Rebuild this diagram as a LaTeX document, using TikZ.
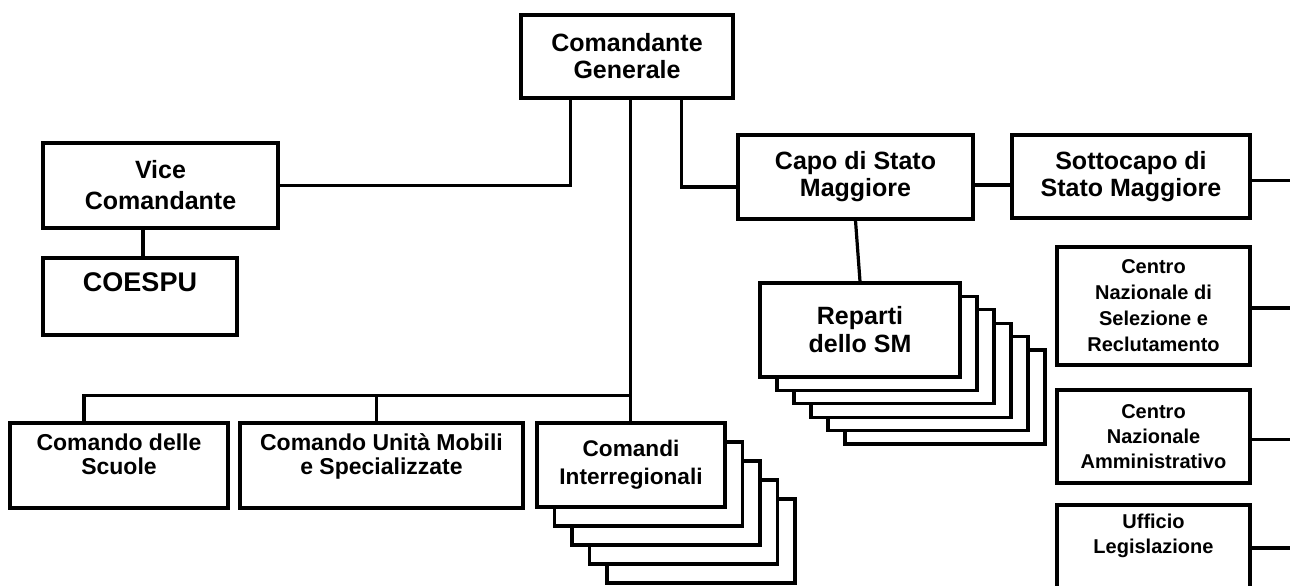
\documentclass[tikz,border=0pt]{standalone}
\usepackage{fontspec}
\setmainfont{Liberation Sans}
\usetikzlibrary{calc}

\begin{document}
\begin{tikzpicture}[x=0.5pt,y=-0.5pt,line width=1.6pt,
        box/.style={draw,rectangle,inner sep=0pt,align=center,fill=white},
        big/.style={font=\bfseries\fontsize{12.5}{13.5}\selectfont},
        mid/.style={font=\bfseries\fontsize{11.3}{14}\selectfont},
        small/.style={font=\bfseries\fontsize{10}{13}\selectfont},
        toptext/.style={anchor=north,inner sep=0pt,align=center}]
        \useasboundingbox (0,0) rectangle (1290,585);
        \coordinate (rim) at (1300,0);
        \node[box,big,minimum width=106pt,minimum height=41.5pt] (cg) at (627,56.5) {Comandante\\Generale};
        \node[box,big,font=\bfseries\fontsize{12.5}{15.5}\selectfont,minimum width=117.5pt,minimum height=42.5pt] (vc) at (160.5,185.5) {Vice\\Comandante};
        \node[box,minimum width=97pt,minimum height=38.5pt,
              label={[toptext,yshift=-7.5pt,font=\bfseries\fontsize{13.5}{15}\selectfont]north:COESPU}] (coe) at (140,296.5) {};
        \node[box,big,minimum width=117.5pt,minimum height=42pt] (capo) at (855.5,177) {Capo di Stato\\Maggiore};
        \node[box,big,minimum width=119pt,minimum height=41.5pt] (sotto) at (1131,176.5) {Sottocapo di\\Stato Maggiore};
        \foreach \i in {5,4,...,1}
            \node[box,minimum width=100pt,minimum height=47pt] (rep\i) at ($(860,330)+(\i*17,\i*13.4)$) {};
        \node[box,big,font=\bfseries\fontsize{12.5}{14}\selectfont,minimum width=100pt,minimum height=47pt] (rep) at (860,330) {Reparti\\dello SM};
        \node[box,small,minimum width=96.5pt,minimum height=59pt] (cs) at (1153.5,306) {Centro\\Nazionale di\\Selezione e\\Reclutamento};
        \node[box,small,font=\bfseries\fontsize{10}{12.5}\selectfont,minimum width=96.5pt,minimum height=46.5pt] (ca) at (1153.5,436.5) {Centro\\Nazionale\\Amministrativo};
        \node[box,minimum width=96.5pt,minimum height=43pt,
              label={[toptext,yshift=-4.5pt,font=\bfseries\fontsize{10}{12.5}\selectfont]north:Ufficio\\Legislazione}] (uf) at (1153.5,548) {};
        \node[box,minimum width=109pt,minimum height=42.5pt,
              label={[toptext,yshift=-5.5pt,font=\bfseries\fontsize{11.5}{12}\selectfont]north:Comando delle\\Scuole}] (sc) at (119,465.5) {};
        \node[box,minimum width=141.5pt,minimum height=42.5pt,
              label={[toptext,yshift=-5.5pt,font=\bfseries\fontsize{11.5}{12}\selectfont]north:Comando Unità Mobili\\e Specializzate}] (cu) at (381.5,465.5) {};
        \foreach \i in {4,3,...,1}
            \node[box,minimum width=94pt,minimum height=42pt] (ci\i) at ($(631,465)+(\i*17.5,\i*19)$) {};
        \node[box,mid,minimum width=94pt,minimum height=42pt] (ci) at (631,465) {Comandi\\Interregionali};
        \coordinate (j1) at ($(cg.south west)+(51,0)$);
        \coordinate (j2) at ($(cg.south west)+(111,0)$);
        \coordinate (j3) at ($(cg.south west)+(162,0)$);
        \coordinate (bus) at ($(j2)+(0,296)$);
        \draw (j1) |- (vc.east);
        \draw (j3) |- ([yshift=-5pt]capo.west);
        \draw (j2) -- (j2 |- ci.north);
        \draw ([xshift=1.5pt]coe.north) -- ([xshift=1.5pt]coe.north |- vc.south);
        \draw ([yshift=-4pt]capo.east) -- ([yshift=-4pt]capo.east -| sotto.west);
        \draw ([yshift=-2pt]sotto.east) -- ([yshift=-2pt]sotto.east -| rim);
        \draw (capo.south) -- (rep.north);
        \draw (bus) -| ([xshift=-17.5pt]sc.north);
        \draw ([xshift=-2.5pt]cu.north) -- ([xshift=-2.5pt]cu.north |- bus);
        \draw ([yshift=-1pt]cs.east) -- ([yshift=-1pt]cs.east -| rim);
        \draw ([yshift=-1.5pt]ca.east) -- ([yshift=-1.5pt]ca.east -| rim);
        \draw (uf.east) -- (uf.east -| rim);
    \end{tikzpicture}
\end{document}
